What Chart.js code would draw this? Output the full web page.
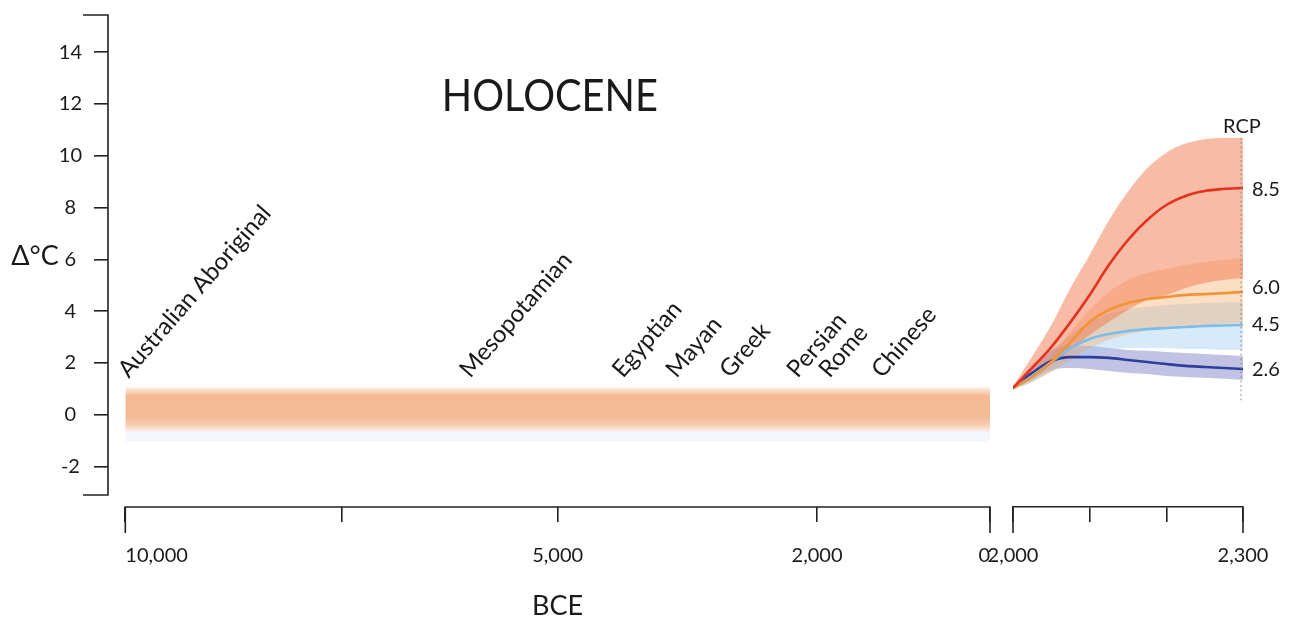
<!DOCTYPE html>
<html>
<head>
<meta charset="utf-8">
<script src="https://cdn.jsdelivr.net/npm/chart.js@4.4.1/dist/chart.umd.min.js"></script>
<style>
html,body{margin:0;padding:0;background:#fff;width:1295px;height:619px;overflow:hidden}
#wrap{position:relative;width:1295px;height:619px}
canvas{position:absolute;left:0;top:0}
</style>
</head>
<body>
<div id="wrap">
<canvas id="cA" width="1295" height="619"></canvas>
<canvas id="cB" width="1295" height="619"></canvas>
</div>
<script>
// ---------- DATA ----------
const Y_TICKS = [-2, 0, 2, 4, 6, 8, 10, 12, 14];
const BCE_TICKS = [-10000, -7500, -5000, -2000, 0];
const BCE_LABELS = ['10,000', '', '5,000', '2,000', '0'];
const CE_TICKS = [2000, 2100, 2200, 2300];
const CE_LABELS = ['2,000', '', '', '2,300'];

const HOLO_X = [-10000, 0];
const HOLO_TOP = [1.1, 1.1];
const HOLO_BOTTOM = [-1.05, -1.05];

const CIV_NAMES = ['Australian Aboriginal', 'Mesopotamian', 'Egyptian', 'Mayan', 'Greek', 'Persian', 'Rome', 'Chinese'];
const CIV_YEARS = [-9960, -6010, -4245, -3625, -3005, -2225, -1855, -1245];
const CIV_LEVEL = 1.38;

const YEARS = [2000, 2025, 2050, 2075, 2100, 2125, 2150, 2175, 2200, 2225, 2250, 2275, 2300];
const RCP85_MEAN = [1.04, 1.81, 2.62, 3.58, 4.63, 5.78, 6.75, 7.52, 8.10, 8.45, 8.64, 8.72, 8.76];
const RCP85_HIGH = [1.10, 2.25, 3.47, 4.90, 6.17, 7.50, 8.62, 9.52, 10.12, 10.47, 10.64, 10.69, 10.69];
const RCP85_LOW  = [1.00, 1.43, 1.93, 2.50, 3.08, 3.58, 4.05, 4.43, 4.62, 4.90, 5.09, 5.21, 5.28];
const RCP60_MEAN = [1.04, 1.46, 2.04, 2.81, 3.58, 4.05, 4.32, 4.47, 4.55, 4.63, 4.66, 4.70, 4.74];
const RCP60_HIGH = [1.08, 1.54, 2.31, 3.20, 4.05, 4.74, 5.21, 5.48, 5.63, 5.78, 5.90, 5.98, 6.06];
const RCP60_LOW  = [1.00, 1.27, 1.66, 2.12, 2.58, 2.89, 3.12, 3.27, 3.35, 3.43, 3.47, 3.51, 3.55];
const RCP45_MEAN = [1.04, 1.50, 2.04, 2.58, 2.93, 3.12, 3.24, 3.31, 3.35, 3.39, 3.43, 3.45, 3.47];
const RCP45_HIGH = [1.06, 1.66, 2.43, 3.08, 3.58, 3.89, 4.08, 4.16, 4.24, 4.28, 4.32, 4.34, 4.36];
const RCP45_LOW  = [1.00, 1.27, 1.66, 2.04, 2.31, 2.50, 2.58, 2.58, 2.58, 2.54, 2.54, 2.50, 2.50];
const RCP26_MEAN = [1.04, 1.62, 2.08, 2.23, 2.23, 2.20, 2.12, 2.04, 1.96, 1.89, 1.85, 1.81, 1.77];
const RCP26_HIGH = [1.06, 1.93, 2.50, 2.66, 2.66, 2.58, 2.50, 2.47, 2.43, 2.39, 2.35, 2.31, 2.27];
const RCP26_LOW  = [0.96, 1.35, 1.73, 1.81, 1.77, 1.69, 1.62, 1.58, 1.50, 1.46, 1.43, 1.39, 1.35];

const RCP_NAMES = ['8.5', '6.0', '4.5', '2.6'];
const RCP_LABEL_AT = [8.71, 4.93, 3.47, 1.73];
const RCP_HEADER_AT = 11.11;
const RCP_AXIS_RANGE = [0.45, 10.7];

const TITLE_TEXT = 'HOLOCENE';
const TITLE_AT = [-5090, 12.27];

// ---------- STYLE ----------
const FONT = 'Lato, "Open Sans", sans-serif';
const INK = '#1a1a1a';
const AXIS = '#222';
const Y_MIN = -3.556, Y_MAX = 15.433, Y_AXIS_LOW = -3.09;

const pts = (xs, ys) => xs.map((x, i) => ({x, y: ys[i]}));

function holoGradient(c) {
  const ch = c.chart;
  if (!ch.chartArea) return 'rgba(244,186,148,0.9)';
  const ys = ch.scales.y;
  const t = ys.getPixelForValue(HOLO_TOP[0]), b = ys.getPixelForValue(HOLO_BOTTOM[0]);
  const g = ch.ctx.createLinearGradient(0, t, 0, b);
  g.addColorStop(0.00, 'rgba(250,215,190,0)');
  g.addColorStop(0.05, 'rgba(248,205,175,0.6)');
  g.addColorStop(0.17, 'rgb(244,186,148)');
  g.addColorStop(0.55, 'rgb(244,186,148)');
  g.addColorStop(0.70, 'rgb(247,206,182)');
  g.addColorStop(0.79, 'rgb(251,232,220)');
  g.addColorStop(0.82, 'rgb(245,247,252)');
  g.addColorStop(1.00, 'rgb(246,247,252)');
  return g;
}

const decorA = {
  id: 'decorA',
  afterDraw(chart) {
    const {ctx, chartArea: a, scales: {x, y}} = chart;
    ctx.save();
    ctx.strokeStyle = AXIS; ctx.lineWidth = 1.6;
    const yLow = y.getPixelForValue(Y_AXIS_LOW);
    ctx.beginPath();
    ctx.moveTo(a.left - 25, a.top); ctx.lineTo(a.left, a.top);
    ctx.lineTo(a.left, yLow); ctx.lineTo(a.left - 25, yLow);
    ctx.stroke();
    const x0 = x.getPixelForValue(BCE_TICKS[0]);
    const x1 = x.getPixelForValue(BCE_TICKS[BCE_TICKS.length - 1]);
    ctx.beginPath();
    ctx.moveTo(x0, a.bottom + 26); ctx.lineTo(x0, a.bottom);
    ctx.lineTo(x1, a.bottom); ctx.lineTo(x1, a.bottom + 26);
    ctx.stroke();

    ctx.fillStyle = INK;
    // civilisation labels
    ctx.font = '24px ' + FONT;
    ctx.textAlign = 'left'; ctx.textBaseline = 'alphabetic';
    CIV_NAMES.forEach((n, i) => {
      ctx.save();
      ctx.translate(x.getPixelForValue(CIV_YEARS[i]), y.getPixelForValue(CIV_LEVEL));
      ctx.rotate(-49 * Math.PI / 180);
      ctx.fillText(n, 0, 0);
      ctx.restore();
    });
    // title
    ctx.font = '44px ' + FONT;
    ctx.textAlign = 'center'; ctx.textBaseline = 'middle';
    ctx.fillText(TITLE_TEXT, x.getPixelForValue(TITLE_AT[0]), y.getPixelForValue(TITLE_AT[1]), 216);
    // y axis title
    ctx.font = '27px ' + FONT;
    ctx.fillText('Δ°C', a.left - 73, y.getPixelForValue(6) - 3);
    // x axis title
    ctx.fillText('BCE', x.getPixelForValue(-5000), a.bottom + 99);
    ctx.restore();
  }
};

const decorB = {
  id: 'decorB',
  afterDraw(chart) {
    const {ctx, chartArea: a, scales: {x, y}} = chart;
    ctx.save();
    ctx.strokeStyle = AXIS; ctx.lineWidth = 1.6;
    [CE_TICKS[0], CE_TICKS[CE_TICKS.length - 1]].forEach(v => {
      const px = x.getPixelForValue(v);
      ctx.beginPath(); ctx.moveTo(px, a.bottom); ctx.lineTo(px, a.bottom + 26); ctx.stroke();
    });
    // dotted RCP axis
    const ax = x.getPixelForValue(2300) - 2;
    ctx.strokeStyle = '#8a8a8a'; ctx.lineWidth = 1.2; ctx.setLineDash([1.5, 3]);
    ctx.beginPath();
    ctx.moveTo(ax, y.getPixelForValue(RCP_AXIS_RANGE[1]));
    ctx.lineTo(ax, y.getPixelForValue(RCP_AXIS_RANGE[0]));
    ctx.stroke();
    ctx.setLineDash([]);
    ctx.fillStyle = INK;
    ctx.font = '20px ' + FONT;
    ctx.textAlign = 'center'; ctx.textBaseline = 'middle';
    ctx.fillText('RCP', ax + 1, y.getPixelForValue(RCP_HEADER_AT));
    ctx.textAlign = 'left';
    RCP_NAMES.forEach((n, i) => ctx.fillText(n, ax + 11, y.getPixelForValue(RCP_LABEL_AT[i])));
    ctx.restore();
  }
};

const yOpts = (show) => ({
  type: 'linear', min: Y_MIN, max: Y_MAX, display: show,
  afterBuildTicks: s => { s.ticks = Y_TICKS.map(v => ({value: v})); },
  ticks: {font: {family: FONT, size: 20}, color: INK, crossAlign: 'center', padding: 12},
  grid: {drawOnChartArea: false, drawTicks: true, tickLength: 14, color: AXIS, tickColor: AXIS, lineWidth: 1.6, tickWidth: 1.6},
  border: {display: false},
  afterFit: s => { if (show) s.width = 108; s.paddingTop = 0; s.paddingBottom = 0; }
});

// ---------- CHART A : Holocene ----------
new Chart(document.getElementById('cA'), {
  type: 'line',
  data: {
    datasets: [
      {data: pts(HOLO_X, HOLO_TOP), borderWidth: 0, pointRadius: 0, fill: false},
      {data: pts(HOLO_X, HOLO_BOTTOM), borderWidth: 0, pointRadius: 0, fill: '-1', backgroundColor: holoGradient}
    ]
  },
  options: {
    responsive: false, animation: false, devicePixelRatio: 1,
    layout: {padding: {left: 0, right: 305, top: 15, bottom: 0}},
    plugins: {legend: {display: false}, tooltip: {enabled: false}},
    scales: {
      x: {
        type: 'linear', min: -10200, max: 0,
        afterBuildTicks: s => { s.ticks = BCE_TICKS.map(v => ({value: v})); },
        ticks: {
          callback: (v) => BCE_LABELS[BCE_TICKS.indexOf(v)] ?? '',
          font: {family: FONT, size: 20}, color: INK, align: 'inner', padding: 22, maxRotation: 0, autoSkip: false
        },
        grid: {drawOnChartArea: false, drawTicks: true, tickLength: 15, color: AXIS, tickColor: AXIS, lineWidth: 1.6, tickWidth: 1.6},
        border: {display: false},
        afterFit: s => { s.height = 112; }
      },
      y: yOpts(true)
    }
  },
  plugins: [decorA]
});

// ---------- CHART B : RCP projections ----------
const band = (hi, lo, color, order) => [
  {data: pts(YEARS, hi), borderWidth: 0, pointRadius: 0, fill: false, order, cubicInterpolationMode: 'monotone'},
  {data: pts(YEARS, lo), borderWidth: 0, pointRadius: 0, fill: '-1', backgroundColor: color, order, cubicInterpolationMode: 'monotone'}
];
const line = (vals, color, order) => ({
  data: pts(YEARS, vals), borderColor: color, borderWidth: 2.6, pointRadius: 0, fill: false, order,
  cubicInterpolationMode: 'monotone'
});

new Chart(document.getElementById('cB'), {
  type: 'line',
  data: {
    datasets: [
      line(RCP85_MEAN, '#E5321F', 0),
      line(RCP60_MEAN, '#F29436', 1),
      line(RCP45_MEAN, '#7DBDEA', 2),
      line(RCP26_MEAN, '#2E3E9C', 3),
      ...band(RCP85_HIGH, RCP85_LOW, 'rgba(242,120,75,0.5)', 10),
      ...band(RCP60_HIGH, RCP60_LOW, 'rgba(245,160,90,0.35)', 11),
      ...band(RCP45_HIGH, RCP45_LOW, 'rgba(160,205,240,0.42)', 12),
      ...band(RCP26_HIGH, RCP26_LOW, 'rgba(95,95,185,0.38)', 13)
    ]
  },
  options: {
    responsive: false, animation: false, devicePixelRatio: 1,
    layout: {padding: {left: 1013, right: 52, top: 15, bottom: 0}},
    plugins: {legend: {display: false}, tooltip: {enabled: false}},
    scales: {
      x: {
        type: 'linear', min: 2000, max: 2300,
        afterBuildTicks: s => { s.ticks = CE_TICKS.map(v => ({value: v})); },
        ticks: {
          callback: (v) => CE_LABELS[CE_TICKS.indexOf(v)] ?? '',
          font: {family: FONT, size: 20}, color: INK, padding: 22, maxRotation: 0, autoSkip: false
        },
        grid: {drawOnChartArea: false, drawTicks: true, tickLength: 15, color: AXIS, tickColor: AXIS, lineWidth: 1.6, tickWidth: 1.6},
        border: {display: true, color: AXIS, width: 1.6},
        afterFit: s => { s.height = 112; }
      },
      y: yOpts(false)
    }
  },
  plugins: [decorB]
});
</script>
</body>
</html>
